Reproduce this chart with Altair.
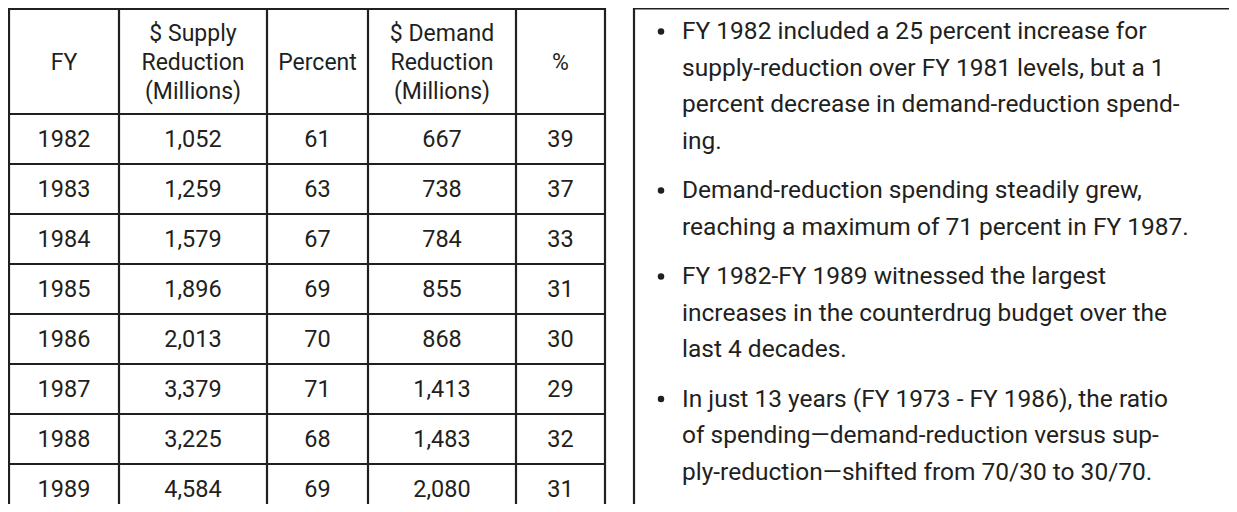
import altair as alt
import pandas as pd

# ---------------- data ----------------
fiscal_years = [1982, 1983, 1984, 1985, 1986, 1987, 1988, 1989]
supply_millions = [1052, 1259, 1579, 1896, 2013, 3379, 3225, 4584]
supply_percent = [61, 63, 67, 69, 70, 71, 68, 69]
demand_millions = [667, 738, 784, 855, 868, 1413, 1483, 2080]
demand_percent = [39, 37, 33, 31, 30, 29, 32, 31]
column_headers = ["FY", "$ Supply\nReduction\n(Millions)", "Percent",
                  "$ Demand\nReduction\n(Millions)", "%"]
bullet_points = [
    ["FY 1982 included a 25 percent increase for",
     "supply-reduction over FY 1981 levels, but a 1",
     "percent decrease in demand-reduction spend-",
     "ing."],
    ["Demand-reduction spending steadily grew,",
     "reaching a maximum of 71 percent in FY 1987."],
    ["FY 1982-FY 1989 witnessed the largest",
     "increases in the counterdrug budget over the",
     "last 4 decades."],
    ["In just 13 years (FY 1973 - FY 1986), the ratio",
     "of spending\u2014demand-reduction versus sup-",
     "ply-reduction\u2014shifted from 70/30 to 30/70."],
]

# ---------------- layout (pixels in the plot frame) ----------------
W, H = 1221, 496
col_edges = [1, 111, 259, 360, 508, 597]
header_top, header_bottom, row_h = 1, 106, 50
table_bottom = header_bottom + row_h * len(fiscal_years)
box_left, box_top = 626, 0.5
bullet_x, text_x = 653, 674
first_baseline, line_pitch, para_gap = 31, 36.5, 13
header_lh = 29
INK = "#231f20"
FONT = "Roboto"

xs = alt.Scale(domain=[0, W], range=[0, W], nice=False, zero=False)
ys = alt.Scale(domain=[0, H], range=[0, H], nice=False, zero=False)
X = alt.X("x:Q", scale=xs, axis=None)
Y = alt.Y("y:Q", scale=ys, axis=None)

# grid rules
segs = []
for e in col_edges:
    segs.append(dict(x=e, y=header_top - 1, x2=e, y2=table_bottom))
for yv in [header_top] + [header_bottom + i * row_h for i in range(len(fiscal_years) + 1)]:
    segs.append(dict(x=col_edges[0] - 1, y=yv, x2=col_edges[-1] + 1, y2=yv))
segs.append(dict(x=box_left, y=box_top - 1, x2=box_left, y2=H + 10))
segs.append(dict(x=box_left - 1, y=box_top, x2=W + 10, y2=box_top))
rules = alt.Chart(pd.DataFrame(segs)).mark_rule(strokeWidth=2.2, color=INK).encode(
    x=X, y=Y, x2="x2:Q", y2="y2:Q",
)

# header cells (multi-line, vertically centred)
hc = (header_top + header_bottom) / 2 + 1
hdr = pd.DataFrame({
    "t": column_headers,
    "x": [(col_edges[i] + col_edges[i + 1]) / 2 for i in range(5)],
    "y": [hc - (h.count("\n")) * header_lh / 2 for h in column_headers],
})
header = alt.Chart(hdr).mark_text(
    font=FONT, fontSize=23, lineBreak="\n", lineHeight=header_lh,
    align="center", baseline="middle", color=INK,
).encode(x=X, y=Y, text="t:N")

# body cells
cells = []
for r, (fy, s, sp, d, dp) in enumerate(zip(fiscal_years, supply_millions, supply_percent,
                                          demand_millions, demand_percent)):
    vals = [str(fy), f"{s:,}", str(sp), f"{d:,}", str(dp)]
    for c, v in enumerate(vals):
        cells.append(dict(t=v, x=(col_edges[c] + col_edges[c + 1]) / 2,
                          y=header_bottom + row_h * (r + 0.5) + 1))
body = alt.Chart(pd.DataFrame(cells)).mark_text(
    font=FONT, fontSize=23.5, align="center", baseline="middle", color=INK,
).encode(x=X, y=Y, text="t:N")

# bullet text
lines = []
bullets = []
yb = first_baseline
for p, para in enumerate(bullet_points):
    bullets.append(dict(x=bullet_x, y=yb - 7.5))
    for li, ln in enumerate(para):
        lines.append(dict(t=ln, x=text_x, y=yb))
        yb += line_pitch
    yb += para_gap

notes = alt.Chart(pd.DataFrame(lines)).mark_text(
    font=FONT, fontSize=24.5, align="left", baseline="alphabetic", color=INK,
).encode(x=X, y=Y, text="t:N")
dots = alt.Chart(pd.DataFrame(bullets)).mark_point(
    shape="circle", filled=True, size=42, opacity=1, color=INK,
).encode(x=X, y=Y)

chart = alt.layer(rules, header, body, notes, dots).properties(
    width=W, height=H, padding=0,
    autosize=alt.AutoSizeParams(type="none"),
).configure_view(strokeWidth=0)

chart.save("out.html", embed_options={"renderer": "svg", "actions": False})
